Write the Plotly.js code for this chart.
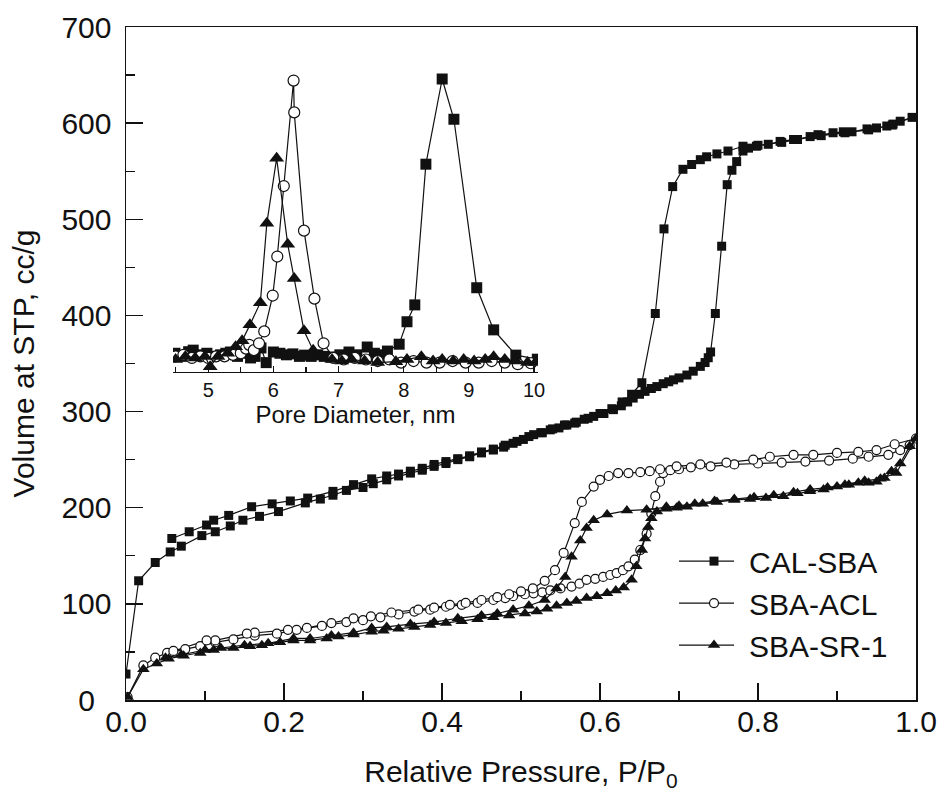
<!DOCTYPE html>
<html>
<head>
<meta charset="utf-8">
<script src="https://cdn.plot.ly/plotly-3.0.1.min.js"></script>
<style>
html,body{margin:0;padding:0;background:#fff;}
#chart{width:938px;height:811px;}
</style>
</head>
<body>
<div id="chart"></div>
<script>
// ---------- Main isotherm data (P/P0, volume cc/g) ----------
const calAdsP = [0.000,0.016,0.037,0.056,0.070,0.096,0.113,0.132,0.148,0.169,0.193,0.227,0.246,0.262,0.279,0.300,0.313,0.330,0.345,0.360,0.375,0.390,0.405,0.420,0.435,0.450,0.465,0.478,0.490,0.503,0.516,0.527,0.537,0.548,0.558,0.568,0.580,0.592,0.605,0.617,0.627,0.635,0.642,0.650,0.657,0.665,0.672,0.680,0.687,0.693,0.700,0.710,0.718,0.727,0.733,0.737,0.740,0.746,0.754,0.761,0.767,0.773,0.781,0.788,0.798,0.813,0.828,0.845,0.866,0.876,0.895,0.908,0.919,0.938,0.950,0.963,0.971,0.980,0.995];
const calAdsV = [27,124,143,154,160,171,175,181,187,191,196,205,209,213,218,221,225,229,233,236,239,243,246,250,253,257,260,263,267,271,276,278,281,283,286,288,292,295,298,302,306,310,314,318,321,324,326,329,331,333,335,338,342,347,351,356,362,402,472,536,551,560,571,574,576,578,581,583,586,588,590,591,591,594,595,597,599,602,606];
const calDesP = [0.970,0.940,0.910,0.880,0.850,0.830,0.800,0.781,0.762,0.748,0.735,0.727,0.716,0.705,0.692,0.681,0.670,0.653,0.640,0.628,0.615,0.600,0.585,0.570,0.555,0.540,0.525,0.510,0.495,0.480,0.465,0.450,0.435,0.420,0.405,0.390,0.375,0.360,0.345,0.330,0.311,0.288,0.262,0.230,0.208,0.185,0.159,0.130,0.111,0.102,0.080,0.058];
const calDesV = [598,593,590,587,583,580,577,576,571,568,565,562,557,552,534,490,402,330,318,310,303,298,293,289,286,282,278,274,269,265,261,258,254,251,248,245,241,238,235,233,230,224,217,210,207,204,201,192,187,182,175,168];

const aclAdsP = [0.002,0.022,0.037,0.052,0.075,0.094,0.113,0.136,0.163,0.191,0.216,0.248,0.279,0.300,0.322,0.345,0.365,0.385,0.405,0.425,0.445,0.465,0.480,0.490,0.505,0.516,0.527,0.537,0.550,0.564,0.574,0.583,0.594,0.604,0.613,0.621,0.629,0.636,0.644,0.651,0.659,0.665,0.670,0.676,0.680,0.689,0.700,0.715,0.740,0.770,0.800,0.830,0.860,0.890,0.920,0.940,0.965,0.980,0.992,1.000];
const aclAdsV = [3,36,44,49,53,56,60,63,67,69,73,77,81,83,86,89,92,94,97,99,101,104,106,108,110,111,112,114,116,118,121,125,126,128,130,132,135,139,146,156,173,194,212,227,236,239,240,242,243,245,246,247,248,249,251,253,255,260,265,272];
const aclDesP = [0.973,0.950,0.927,0.900,0.870,0.845,0.815,0.794,0.760,0.727,0.697,0.676,0.663,0.651,0.636,0.623,0.611,0.600,0.592,0.577,0.568,0.554,0.543,0.530,0.515,0.500,0.485,0.470,0.450,0.430,0.410,0.390,0.370,0.336,0.310,0.288,0.260,0.229,0.205,0.163,0.153,0.113,0.102,0.060];
const aclDesV = [266,260,258,257,255,255,253,250,247,245,243,240,238,237,236,236,233,229,222,206,184,153,135,124,116,113,110,107,104,101,99,96,94,91,87,85,80,75,73,70,69,62,62,51];

const srAdsP = [0.002,0.022,0.039,0.054,0.073,0.094,0.111,0.136,0.157,0.172,0.195,0.212,0.233,0.254,0.269,0.288,0.311,0.326,0.345,0.365,0.385,0.405,0.425,0.445,0.465,0.485,0.505,0.520,0.533,0.545,0.558,0.570,0.583,0.596,0.609,0.620,0.630,0.640,0.646,0.653,0.657,0.661,0.665,0.672,0.684,0.697,0.710,0.730,0.748,0.770,0.790,0.810,0.832,0.850,0.866,0.883,0.900,0.915,0.927,0.940,0.950,0.960,0.969,0.980,0.992,1.000];
const srAdsV = [3,32,38,43,46,49,52,54,56,57,60,62,62,64,66,68,71,72,74,76,78,80,82,84,86,88,90,92,95,98,101,103,106,108,111,114,117,125,139,156,168,180,189,196,199,200,201,204,206,208,209,210,212,215,217,219,222,224,226,226,227,231,238,246,264,272];
const srDesP = [0.975,0.955,0.935,0.910,0.888,0.866,0.845,0.820,0.795,0.770,0.745,0.720,0.700,0.684,0.659,0.634,0.609,0.592,0.583,0.575,0.564,0.556,0.545,0.530,0.510,0.490,0.470,0.450,0.420,0.390,0.360,0.330,0.311,0.288,0.260,0.233,0.212,0.180,0.150,0.120,0.100,0.070,0.050];
const srDesV = [236,230,228,224,221,219,216,213,211,209,207,204,202,201,198,197,193,187,179,166,149,128,116,104,98,94,90,88,85,81,79,76,75,70,67,64,64,59,57,54,52,47,44];

// ---------- Inset: pore size distribution (nm, relative intensity) ----------
const calPoreD = [4.49,4.60,4.70,4.77,4.88,4.98,5.08,5.19,5.27,5.34,5.45,5.55,5.65,5.72,5.81,5.89,6.00,6.10,6.20,6.30,6.40,6.48,6.58,6.68,6.78,6.90,7.02,7.16,7.28,7.44,7.55,7.66,7.75,7.93,8.05,8.17,8.34,8.59,8.77,9.12,9.38,9.72,10.05];
const calPoreV = [0.06,0.05,0.065,0.07,0.055,0.06,0.05,0.055,0.06,0.064,0.05,0.06,0.045,0.05,0.077,0.03,0.064,0.06,0.055,0.058,0.05,0.054,0.05,0.055,0.05,0.048,0.055,0.064,0.055,0.08,0.06,0.055,0.067,0.089,0.161,0.215,0.666,0.939,0.81,0.27,0.135,0.054,0.041];
const aclPoreD = [4.50,4.62,4.75,4.88,5.00,5.12,5.25,5.38,5.50,5.58,5.63,5.70,5.78,5.86,5.99,6.06,6.16,6.31,6.32,6.47,6.63,6.77,6.92,7.08,7.25,7.42,7.60,7.78,7.96,8.15,8.35,8.55,8.75,8.95,9.15,9.35,9.55,9.75,9.95];
const aclPoreV = [0.05,0.055,0.045,0.05,0.045,0.05,0.05,0.055,0.06,0.075,0.087,0.07,0.092,0.13,0.245,0.37,0.596,0.934,0.832,0.453,0.235,0.092,0.045,0.04,0.045,0.04,0.035,0.04,0.03,0.035,0.03,0.03,0.035,0.03,0.03,0.035,0.03,0.025,0.028];
const srPoreD = [4.50,4.65,4.80,4.95,5.03,5.15,5.30,5.42,5.52,5.64,5.80,5.90,6.05,6.22,6.32,6.47,6.61,6.75,6.90,7.05,7.20,7.40,7.60,7.88,8.05,8.27,8.45,8.59,8.76,8.92,9.08,9.25,9.38,9.55,9.72,9.90,10.02];
const srPoreV = [0.04,0.05,0.045,0.05,0.017,0.05,0.06,0.081,0.10,0.151,0.222,0.477,0.685,0.409,0.30,0.132,0.07,0.05,0.04,0.035,0.04,0.035,0.03,0.033,0.04,0.049,0.035,0.04,0.035,0.04,0.035,0.04,0.049,0.04,0.035,0.03,0.03];

const seriesNames = ['CAL-SBA','SBA-ACL','SBA-SR-1'];
const xTickVals = [0,0.2,0.4,0.6,0.8,1.0];
const xTickText = ['0.0','0.2','0.4','0.6','0.8','1.0'];
const yTickVals = [0,100,200,300,400,500,600,700];
const yTickText = ['0\u00a0\u00a0','100','200','300','400','500','600','700'];

const FONT = 'Liberation Sans, Arial, Helvetica, sans-serif';
const INK = '#111';
const lineStyle = {color: INK, width: 1.2};

const mk = {
  sq:  {symbol:'square', size:9, color:INK, line:{color:INK, width:0}},
  ci:  {symbol:'circle', size:9, color:'#fff', line:{color:INK, width:1.2}},
  tr:  {symbol:'triangle-up', size:11, color:INK, line:{color:INK, width:0}}
};
const mkIn = {
  sq:  {symbol:'square', size:11, color:INK, line:{color:INK, width:0}},
  ci:  {symbol:'circle', size:11, color:'#fff', line:{color:INK, width:1.2}},
  tr:  {symbol:'triangle-up', size:13, color:INK, line:{color:INK, width:0}}
};

const traces = [
  {x: calAdsP.concat(calDesP), y: calAdsV.concat(calDesV), name: seriesNames[0], mode:'lines+markers', line: lineStyle, marker: mk.sq, xaxis:'x', yaxis:'y'},
  {x: aclAdsP.concat(aclDesP), y: aclAdsV.concat(aclDesV), name: seriesNames[1], mode:'lines+markers', line: lineStyle, marker: mk.ci, xaxis:'x', yaxis:'y'},
  {x: srAdsP.concat(srDesP), y: srAdsV.concat(srDesV), name: seriesNames[2], mode:'lines+markers', line: lineStyle, marker: mk.tr, xaxis:'x', yaxis:'y'},
  {x: calPoreD, y: calPoreV, mode:'lines+markers', line: lineStyle, marker: mkIn.sq, xaxis:'x2', yaxis:'y2', showlegend:false},
  {x: aclPoreD, y: aclPoreV, mode:'lines+markers', line: lineStyle, marker: mkIn.ci, xaxis:'x2', yaxis:'y2', showlegend:false},
  {x: srPoreD, y: srPoreV, mode:'lines+markers', line: lineStyle, marker: mkIn.tr, xaxis:'x2', yaxis:'y2', showlegend:false}
];

const layout = {
  width: 938, height: 811,
  margin: {l:126, r:22, t:27, b:111},
  paper_bgcolor:'#fff', plot_bgcolor:'#fff',
  font: {family: FONT, size: 30, color: INK},
  showlegend: true,
  legend: {
    x: 0.70, xanchor:'left', y: 0.245, yanchor:'top',
    bgcolor:'rgba(0,0,0,0)', borderwidth:0,
    font:{family:FONT, size:30, color:INK},
    tracegroupgap: 0, itemwidth: 60
  },
  xaxis: {
    domain:[0,1], range:[0,1.0], anchor:'y',
    showline:true, linecolor:INK, linewidth:1.5, mirror:true,
    ticks:'inside', ticklen:17, tickwidth:1.3, tickcolor:INK,
    tickvals: xTickVals, ticktext: xTickText, ticklabelstandoff:-6,
    minor:{dtick:0.1, ticks:'inside', ticklen:9, tickwidth:1.3, tickcolor:INK, showgrid:false},
    showgrid:false, zeroline:false,
    tickfont:{family:FONT, size:30, color:INK},
    title:{text:'Relative Pressure, P/P<sub>0</sub>', font:{family:FONT, size:30, color:INK}, standoff:24}
  },
  yaxis: {
    domain:[0,1], range:[0,700], anchor:'x',
    showline:true, linecolor:INK, linewidth:1.5, mirror:true,
    ticks:'inside', ticklen:17, tickwidth:1.3, tickcolor:INK,
    tickvals: yTickVals, ticktext: yTickText, ticklabelstandoff:7,
    minor:{dtick:50, ticks:'inside', ticklen:9, tickwidth:1.3, tickcolor:INK, showgrid:false},
    showgrid:false, zeroline:false,
    tickfont:{family:FONT, size:30, color:INK},
    title:{text:'Volume at STP, cc/g', font:{family:FONT, size:30, color:INK}, standoff:18}
  },
  xaxis2: {
    domain:[0.0595, 0.5215], range:[4.46, 10.06], anchor:'y2',
    showline:true, linecolor:INK, linewidth:1.3,
    ticks:'inside', ticklen:6, tickwidth:1.2, tickcolor:INK, dtick:1,
    minor:{dtick:0.5, ticks:'inside', ticklen:5, tickwidth:1.2, tickcolor:INK, showgrid:false},
    showgrid:false, zeroline:false,
    tickfont:{family:FONT, size:20, color:INK},
    title:{text:'Pore Diameter, nm', font:{family:FONT, size:24, color:INK}, standoff:0}
  },
  yaxis2: {
    domain:[0.4874, 0.951], range:[0, 1], anchor:'x2', visible:false
  }
};

Plotly.newPlot('chart', traces, layout, {staticPlot:true, displayModeBar:false}).then(function(){
  // lengthen the legend line samples to match the reference style (—■—)
  document.querySelectorAll('.legend .legendlines path').forEach(function(p){
    p.setAttribute('d', 'M-15,0h70');
  });
});
</script>
</body>
</html>
